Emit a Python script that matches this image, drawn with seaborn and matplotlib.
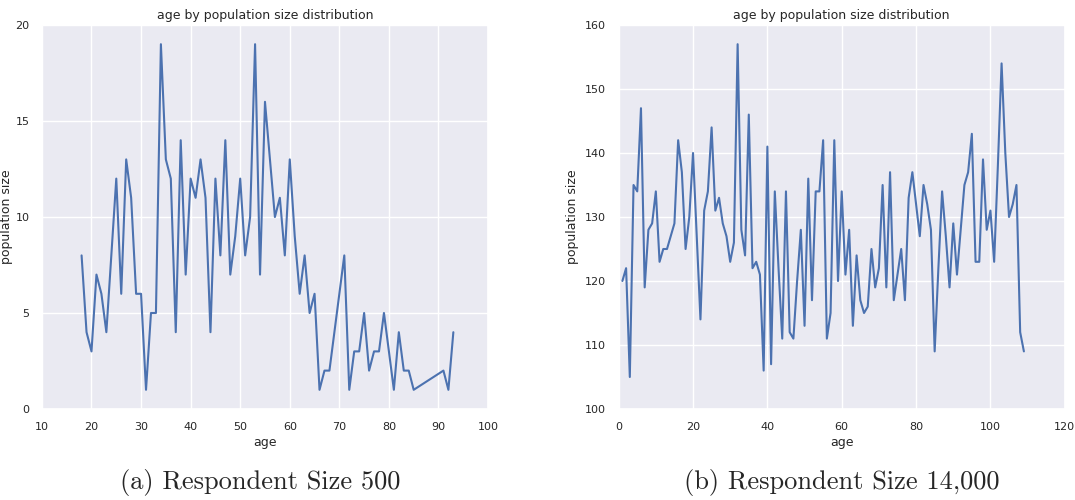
import matplotlib
matplotlib.use("Agg")
import matplotlib.pyplot as plt
import seaborn as sns
import pandas as pd

# Left panel: respondent size 500
ages_a = [18, 19, 20, 21, 22, 23, 24, 25, 26, 27, 28, 29, 30, 31, 32, 33, 34, 35, 36, 37,
          38, 39, 40, 41, 42, 43, 44, 45, 46, 47, 48, 49, 50, 51, 52, 53, 54, 55, 56, 57,
          58, 59, 60, 61, 62, 63, 64, 65, 66, 67, 68, 69, 70, 71, 72, 73, 74, 75, 76, 77,
          78, 79, 80, 81, 82, 83, 84, 85, 91, 92, 93]
pop_a = [8, 4, 3, 7, 6, 4, 8, 12, 6, 13, 11, 6, 6, 1, 5, 5, 19, 13, 12, 4,
         14, 7, 12, 11, 13, 11, 4, 12, 8, 14, 7, 9, 12, 8, 10, 19, 7, 16, 13, 10,
         11, 8, 13, 9, 6, 8, 5, 6, 1, 2, 2, 4, 6, 8, 1, 3, 3, 5, 2, 3,
         3, 5, 3, 1, 4, 2, 2, 1, 2, 1, 4]

# Right panel: respondent size 14,000
ages_b = list(range(1, 110))
pop_b = [120, 122, 105, 135, 134, 147, 119, 128, 129, 134,
         123, 125, 125, 127, 129, 142, 137, 125, 130, 140,
         127, 114, 131, 134, 144, 131, 133, 129, 127, 123,
         126, 157, 128, 124, 146, 122, 123, 121, 106, 141,
         107, 134, 122, 111, 134, 112, 111, 120, 128, 113,
         136, 117, 134, 134, 142, 111, 115, 142, 120, 134,
         121, 128, 113, 124, 117, 115, 116, 125, 119, 122,
         135, 119, 137, 117, 121, 125, 117, 133, 137, 132,
         127, 135, 132, 128, 109, 122, 134, 127, 119, 129,
         121, 128, 135, 137, 143, 123, 123, 139, 128, 131,
         123, 138, 154, 140, 130, 132, 135, 112, 109]

titles = ["age by population size distribution", "age by population size distribution"]
captions = ["(a) Respondent Size 500", "(b) Respondent Size 14,000"]

sns.set_theme(style="darkgrid")
plt.rcParams["font.family"] = ["DejaVu Sans"]

fig = plt.figure(figsize=(10.75, 5.0), dpi=100)
ax1 = fig.add_axes([0.039, 0.182, 0.415, 0.768])
ax2 = fig.add_axes([0.5755, 0.182, 0.415, 0.768])

color = "#4C72B0"
df_a = pd.DataFrame({"age": ages_a, "population size": pop_a})
df_b = pd.DataFrame({"age": ages_b, "population size": pop_b})
sns.lineplot(data=df_a, x="age", y="population size", ax=ax1, color=color, linewidth=1.5)
sns.lineplot(data=df_b, x="age", y="population size", ax=ax2, color=color, linewidth=1.5)

ax1.set_xlim(10, 100)
ax1.set_ylim(0, 20)
ax1.set_xticks(range(10, 101, 10))
ax1.set_yticks(range(0, 21, 5))
ax2.set_xlim(0, 120)
ax2.set_ylim(100, 160)
ax2.set_xticks(range(0, 121, 20))
ax2.set_yticks(range(100, 161, 10))

for ax, t in zip([ax1, ax2], titles):
    ax.set_title(t, fontsize=9, pad=4)
    ax.tick_params(labelsize=8, pad=3)
    ax.set_xlabel("age", fontsize=9, labelpad=3)
ax1.set_ylabel("population size", fontsize=9, labelpad=2)
ax2.set_ylabel("population size", fontsize=9, labelpad=4)

fig.text(0.242, 0.034, captions[0], ha="center", va="center", fontsize=19, family="cmr10")
fig.text(0.783, 0.034, captions[1], ha="center", va="center", fontsize=19, family="cmr10")

fig.savefig("out.png", dpi=100)
